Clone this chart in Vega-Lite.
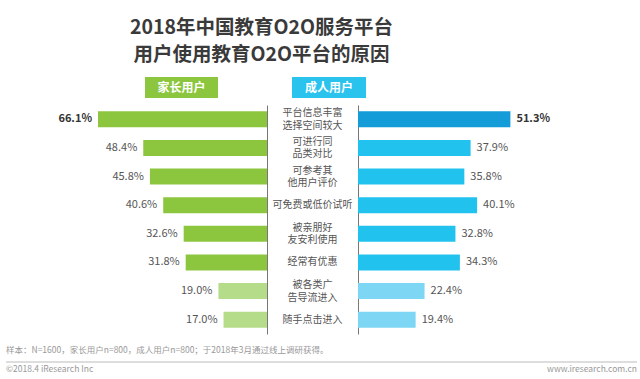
{
  "$schema": "https://vega.github.io/schema/vega-lite/v6.json",
  "padding": {"left": 5, "top": 17, "right": 0, "bottom": 0},
  "background": "white",
  "title": {
    "text": ["2018年中国教育O2O服务平台", "用户使用教育O2O平台的原因"],
    "fontSize": 19.5, "lineHeight": 27, "font": "Noto Sans CJK SC", "fontWeight": "bold",
    "color": "#3a3a3a", "anchor": "middle", "dx": -60, "offset": 12
  },
  "config": {"view": {"stroke": null}, "font": "Noto Sans CJK SC"},
  "datasets": {
    "reasons": [
      {"reason": "平台信息丰富\n选择空间较大", "parent": 0.661, "adult": 0.513},
      {"reason": "可进行同\n品类对比", "parent": 0.484, "adult": 0.379},
      {"reason": "可参考其\n他用户评价", "parent": 0.458, "adult": 0.358},
      {"reason": "可免费或低价试听", "parent": 0.406, "adult": 0.401},
      {"reason": "被亲朋好\n友安利使用", "parent": 0.326, "adult": 0.328},
      {"reason": "经常有优惠", "parent": 0.318, "adult": 0.343},
      {"reason": "被各类广\n告导流进入", "parent": 0.190, "adult": 0.224},
      {"reason": "随手点击进入", "parent": 0.170, "adult": 0.194}
    ]
  },
  "spacing": 7,
  "vconcat": [
    {
      "spacing": 0,
      "hconcat": [
        {"width": 139, "height": 21, "data": {"values": [{}]}, "mark": {"type": "point", "opacity": 0}, "encoding": {}},
        {"width": 73, "height": 21, "view": {"fill": "#8cc63f", "stroke": null},
         "data": {"values": [{"label": "家长用户"}]},
         "mark": {"type": "text", "color": "white", "fontSize": 12, "fontWeight": "bold"},
         "encoding": {"text": {"field": "label"}}},
        {"width": 74, "height": 21, "data": {"values": [{}]}, "mark": {"type": "point", "opacity": 0}, "encoding": {}},
        {"width": 74, "height": 21, "view": {"fill": "#29c3ee", "stroke": null},
         "data": {"values": [{"label": "成人用户"}]},
         "mark": {"type": "text", "color": "white", "fontSize": 12, "fontWeight": "bold"},
         "encoding": {"text": {"field": "label"}}}
      ]
    },
    {
      "spacing": 0,
      "hconcat": [
        {
          "width": 261, "height": 229,
          "data": {"name": "reasons"},
          "encoding": {
            "y": {"field": "reason", "type": "nominal", "sort": null,
                  "scale": {"paddingInner": 0.44, "paddingOuter": 0.22},
                  "axis": {"orient": "right", "labels": false, "ticks": false, "title": null, "domainColor": "#777", "domainWidth": 1}}
          },
          "layer": [
            {"mark": {"type": "bar"},
             "encoding": {
               "x": {"field": "parent", "type": "quantitative", "scale": {"domain": [0, 1.021], "nice": false, "reverse": true}, "axis": null},
               "color": {"condition": {"test": "datum.parent < 0.25", "value": "#b5dc89"}, "value": "#8cc63f"}
             }},
            {"transform": [{"filter": "datum.parent > 0.6"}],
             "mark": {"type": "text", "align": "right", "dx": -6, "fontWeight": "bold", "fontSize": 11, "color": "#333"},
             "encoding": {"x": {"field": "parent", "type": "quantitative"}, "text": {"field": "parent", "type": "quantitative", "format": ".1%"}}},
            {"transform": [{"filter": "datum.parent <= 0.6"}],
             "mark": {"type": "text", "align": "right", "dx": -6, "fontSize": 11, "color": "#555"},
             "encoding": {"x": {"field": "parent", "type": "quantitative"}, "text": {"field": "parent", "type": "quantitative", "format": ".1%"}}}
          ]
        },
        {
          "width": 91, "height": 229,
          "data": {"name": "reasons"},
          "encoding": {
            "y": {"field": "reason", "type": "nominal", "sort": null,
                  "scale": {"domain": ["平台信息丰富\n选择空间较大", "可进行同\n品类对比", "可参考其\n他用户评价", "可免费或低价试听", "被亲朋好\n友安利使用", "经常有优惠", "被各类广\n告导流进入", "随手点击进入"],
                            "paddingInner": 0.44, "paddingOuter": 0.22}, "axis": null},
            "text": {"field": "reason"}
          },
          "layer": [
            {"transform": [{"filter": "indexof(datum.reason, '\\n') >= 0"}],
             "mark": {"type": "text", "lineBreak": "\n", "fontSize": 10, "color": "#555", "lineHeight": 12.5, "dy": -6}},
            {"transform": [{"filter": "indexof(datum.reason, '\\n') < 0"}],
             "mark": {"type": "text", "fontSize": 10, "color": "#555"}}
          ]
        },
        {
          "width": 273, "height": 229,
          "data": {"name": "reasons"},
          "encoding": {
            "y": {"field": "reason", "type": "nominal", "sort": null,
                  "scale": {"paddingInner": 0.44, "paddingOuter": 0.22},
                  "axis": {"orient": "left", "labels": false, "ticks": false, "title": null, "domainColor": "#777", "domainWidth": 1}}
          },
          "layer": [
            {"mark": {"type": "bar"},
             "encoding": {
               "x": {"field": "adult", "type": "quantitative", "scale": {"domain": [0, 0.919], "nice": false}, "axis": null},
               "color": {"condition": [{"test": "datum.adult > 0.5", "value": "#139cd8"}, {"test": "datum.adult < 0.25", "value": "#7dd6f3"}], "value": "#22c2ee"}
             }},
            {"transform": [{"filter": "datum.adult > 0.5"}],
             "mark": {"type": "text", "align": "left", "dx": 6, "fontWeight": "bold", "fontSize": 11, "color": "#333"},
             "encoding": {"x": {"field": "adult", "type": "quantitative"}, "text": {"field": "adult", "type": "quantitative", "format": ".1%"}}},
            {"transform": [{"filter": "datum.adult <= 0.5"}],
             "mark": {"type": "text", "align": "left", "dx": 6, "fontSize": 11, "color": "#555"},
             "encoding": {"x": {"field": "adult", "type": "quantitative"}, "text": {"field": "adult", "type": "quantitative", "format": ".1%"}}}
          ]
        }
      ]
    },
    {
      "width": 631, "height": 35,
      "data": {"values": [{}]},
      "layer": [
        {"mark": {"type": "text", "align": "left", "fontSize": 8.5, "color": "#999"},
         "encoding": {
           "x": {"datum": 0, "type": "quantitative", "scale": {"domain": [0, 1]}, "axis": null},
           "y": {"datum": 0.743, "type": "quantitative", "scale": {"domain": [0, 1]}, "axis": null},
           "text": {"value": "样本：N=1600，家长用户n=800，成人用户n=800；于2018年3月通过线上调研获得。"}
         }},
        {"mark": {"type": "rule", "color": "#bbb", "strokeWidth": 1},
         "encoding": {
           "x": {"datum": 0, "type": "quantitative", "scale": {"domain": [0, 1]}, "axis": null},
           "x2": {"datum": 1},
           "y": {"datum": 0.4, "type": "quantitative", "scale": {"domain": [0, 1]}, "axis": null}
         }},
        {"mark": {"type": "text", "align": "left", "fontSize": 8.5, "color": "#999"},
         "encoding": {
           "x": {"datum": 0, "type": "quantitative", "scale": {"domain": [0, 1]}, "axis": null},
           "y": {"datum": 0.186, "type": "quantitative", "scale": {"domain": [0, 1]}, "axis": null},
           "text": {"value": "©2018.4 iResearch Inc"}
         }},
        {"mark": {"type": "text", "align": "right", "fontSize": 8.5, "color": "#999"},
         "encoding": {
           "x": {"datum": 1, "type": "quantitative", "scale": {"domain": [0, 1]}, "axis": null},
           "y": {"datum": 0.186, "type": "quantitative", "scale": {"domain": [0, 1]}, "axis": null},
           "text": {"value": "www.iresearch.com.cn"}
         }}
      ]
    }
  ]
}
